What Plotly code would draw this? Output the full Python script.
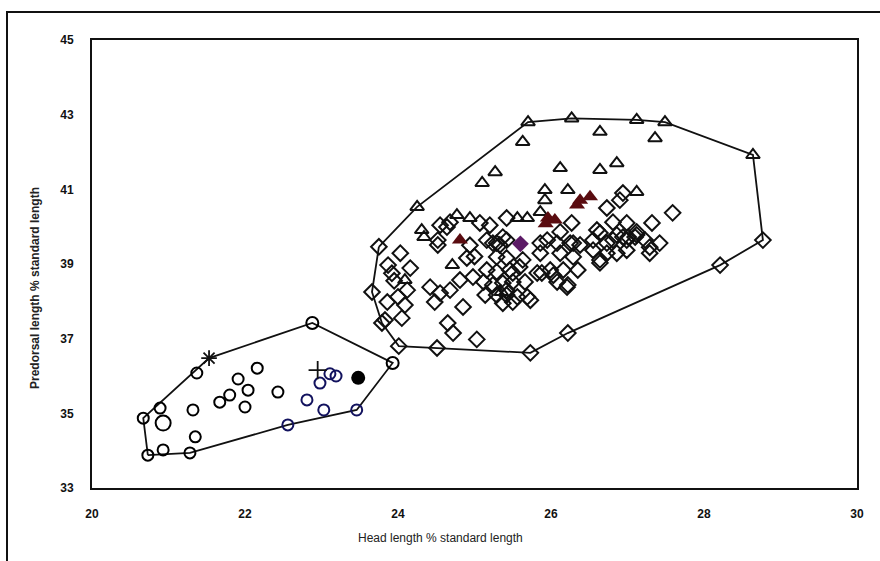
import plotly.graph_objects as go

# ---------------- data ----------------
# Small cluster (left)
circ_x = [20.73, 20.67, 20.89, 20.93, 20.93, 21.28, 21.35, 21.32, 21.37, 21.67, 21.80, 21.91,
          22.00, 22.04, 22.16, 22.43, 22.88, 23.93]
circ_y = [33.88, 34.87, 35.14, 34.74, 34.02, 33.94, 34.37, 35.09, 36.08, 35.30, 35.49, 35.92,
          35.17, 35.62, 36.21, 35.57, 37.42, 36.35]
circ_s = [11, 11, 11, 15, 11, 11, 11, 11, 11, 11, 11, 11, 11, 11, 11, 11, 12, 12]

blue_x = [22.56, 22.81, 23.03, 22.98, 23.11, 23.19, 23.46]
blue_y = [34.69, 35.36, 35.09, 35.81, 36.06, 36.00, 35.09]

star_x = [21.53]
star_y = [36.48]
plus_x = [22.95]
plus_y = [36.16]
dot_x = [23.48]
dot_y = [35.95]

# Large cluster
dia_x = [23.75, 23.66, 23.79, 24.01, 24.51, 25.03, 25.73, 26.22, 28.21, 28.77,
         24.03, 23.87, 24.16, 23.86, 24.00, 24.09, 23.83, 24.05, 23.95, 24.12, 23.92,
         24.52, 24.64, 24.42, 24.55, 24.48, 24.68, 24.81, 24.98, 24.85, 24.65, 24.72, 24.90,
         24.94, 25.00,
         25.07, 25.20, 25.42, 24.68, 24.55, 24.52, 25.24, 25.37, 25.29,
         25.16, 25.33, 25.42, 25.29, 25.42, 25.16, 25.29, 25.46, 25.59, 25.12, 25.24, 25.37,
         25.50, 25.66, 25.14, 25.29, 25.42, 25.56, 25.69, 25.37, 25.50, 25.86, 25.88, 25.99,
         26.16, 26.08, 26.21, 26.35, 26.29, 26.12, 25.95, 26.08, 26.25, 26.38, 26.55, 26.64,
         26.73, 26.86, 26.99, 27.12, 27.23, 27.29, 27.29, 26.64, 26.55, 26.73, 26.86, 26.99,
         26.64, 26.22, 26.03, 25.82, 25.63, 25.50, 25.42, 25.73, 25.86, 26.12, 26.27, 26.29,
         26.60, 26.81, 26.99, 27.12, 26.90, 27.32, 27.59, 26.94, 26.73, 26.81, 27.01, 27.42,
         26.94, 27.10]
dia_y = [39.46, 38.25, 37.42, 36.80, 36.75, 36.98, 36.62, 37.15, 38.97, 39.64,
         39.29, 38.97, 38.89, 37.98, 38.12, 37.90, 37.50, 37.55, 38.55, 38.30, 38.75,
         39.51, 39.99, 38.38, 38.22, 37.98, 38.30, 38.57, 38.65, 37.85, 37.42, 37.15, 39.16,
         39.50, 39.20,
         40.10, 40.04, 40.23, 40.12, 40.04, 39.64, 39.56, 39.72, 39.56,
         39.64, 39.51, 39.64, 39.19, 39.16, 38.84, 38.79, 38.84, 38.92, 38.52, 38.44, 38.49,
         38.52, 38.52, 38.17, 38.17, 38.17, 38.12, 38.12, 37.95, 37.98, 39.29, 38.76, 38.84,
         38.84, 38.52, 38.38, 38.84, 39.19, 39.29, 39.64, 39.56, 39.56, 39.51, 39.64, 39.83,
         39.56, 39.78, 39.64, 39.78, 39.64, 39.45, 39.29, 39.11, 39.37, 39.29, 39.29, 39.37,
         39.03, 38.44, 38.70, 38.76, 39.11, 38.76, 38.30, 38.03, 39.56, 39.86, 40.10, 39.56,
         39.91, 40.12, 40.10, 39.86, 40.71, 40.10, 40.37, 40.90, 40.50, 39.64, 39.72, 39.56,
         39.72, 39.72]

tri_x = [25.70, 25.63, 26.27, 26.64, 27.12, 27.49, 27.36, 28.64,
         26.12, 26.64, 26.86, 25.27, 25.10, 24.25,
         25.92, 26.22, 27.12, 25.92, 25.86,
         24.77, 24.94, 25.56, 25.69, 24.31, 24.34, 24.71, 24.09, 25.35]
tri_y = [42.80, 42.27, 42.90, 42.54, 42.86, 42.80, 42.37, 41.92,
         41.57, 41.52, 41.70, 41.46, 41.17, 40.53,
         40.98, 40.98, 40.93, 40.71, 40.39,
         40.31, 40.23, 40.23, 40.23, 39.91, 39.72, 38.97, 38.57, 38.25]

red_x = [26.38, 26.51, 26.34, 25.96, 26.05, 25.93, 24.81]
red_y = [40.71, 40.80, 40.58, 40.23, 40.18, 40.08, 39.64]

purple_x = [25.60]
purple_y = [39.54]

# Convex hulls
hull1_x = [20.73, 20.67, 21.53, 22.88, 23.93, 23.46, 22.56, 21.28, 20.73]
hull1_y = [33.88, 34.87, 36.48, 37.42, 36.35, 35.09, 34.69, 33.94, 33.88]
hull2_x = [23.75, 24.25, 25.70, 26.27, 27.12, 27.49, 28.64, 28.77, 28.21, 26.22, 25.73,
           24.51, 24.01, 23.79, 23.66, 23.75]
hull2_y = [39.46, 40.53, 42.80, 42.90, 42.86, 42.80, 41.92, 39.64, 38.97, 37.15, 36.62,
           36.75, 36.80, 37.42, 38.25, 39.46]

x_ticks = [20, 22, 24, 26, 28, 30]
y_ticks = [33, 35, 37, 39, 41, 43, 45]

# ---------------- figure ----------------
fig = go.Figure()
line_style = dict(color="#111111", width=1.8)
fig.add_trace(go.Scatter(x=hull1_x, y=hull1_y, mode="lines", line=line_style, hoverinfo="skip"))
fig.add_trace(go.Scatter(x=hull2_x, y=hull2_y, mode="lines", line=line_style, hoverinfo="skip"))

fig.add_trace(go.Scatter(x=circ_x, y=circ_y, mode="markers",
                         marker=dict(symbol="circle-open", size=circ_s, color="#000000", opacity=1,
                                     line=dict(width=2, color="#000000"))))
fig.add_trace(go.Scatter(x=blue_x, y=blue_y, mode="markers",
                         marker=dict(symbol="circle-open", size=11, color="#12125e",
                                     line=dict(width=2, color="#12125e"))))
fig.add_trace(go.Scatter(x=star_x, y=star_y, mode="markers",
                         marker=dict(symbol="asterisk-open", size=13, color="#111111",
                                     line=dict(width=1.8, color="#111111"))))
fig.add_trace(go.Scatter(x=plus_x, y=plus_y, mode="markers",
                         marker=dict(symbol="cross-thin-open", size=13, color="#111111",
                                     line=dict(width=1.8, color="#111111"))))
fig.add_trace(go.Scatter(x=dot_x, y=dot_y, mode="markers",
                         marker=dict(symbol="circle", size=14, color="#000000")))
fig.add_trace(go.Scatter(x=dia_x, y=dia_y, mode="markers",
                         marker=dict(symbol="diamond-open", size=12, color="#111111",
                                     line=dict(width=2, color="#111111"))))
fig.add_trace(go.Scatter(x=tri_x, y=tri_y, mode="markers",
                         marker=dict(symbol="triangle-up-open", size=12, color="#111111",
                                     line=dict(width=2, color="#111111"))))
fig.add_trace(go.Scatter(x=red_x, y=red_y, mode="markers",
                         marker=dict(symbol="triangle-up", size=14, color="#5a0c10")))
fig.add_trace(go.Scatter(x=purple_x, y=purple_y, mode="markers",
                         marker=dict(symbol="diamond", size=13, color="#5c1a66")))

tick_font = dict(family="Liberation Sans Narrow, Arial Narrow, Liberation Sans, sans-serif",
                 size=12, color="#111111", weight="bold")

fig.update_layout(
    width=880, height=561,
    margin=dict(l=92, r=23, t=40, b=73),
    paper_bgcolor="white", plot_bgcolor="white",
    showlegend=False,
    xaxis=dict(range=[20, 30], tickvals=x_ticks, ticktext=[str(v) for v in x_ticks],
               showgrid=False, zeroline=False, showline=True, mirror=True,
               linecolor="#111111", linewidth=2, ticks="", tickfont=tick_font,
               ticklabelstandoff=14),
    yaxis=dict(range=[33, 45], tickvals=y_ticks, ticktext=[str(v) for v in y_ticks],
               showgrid=False, zeroline=False, showline=True, mirror=True,
               linecolor="#111111", linewidth=2, ticks="", tickfont=tick_font,
               ticklabelstandoff=14),
    annotations=[
        dict(text="Head length % standard length", xref="paper", yref="paper",
             x=(440 - 92) / 765, y=(488 - 538) / 448, xanchor="center", yanchor="middle",
             showarrow=False,
             font=dict(family="Liberation Sans Narrow, Arial Narrow, Liberation Sans, sans-serif",
                       size=12, color="#222222")),
        dict(text="Predorsal length % standard length", xref="paper", yref="paper",
             x=(35 - 92) / 765, y=(488 - 288) / 448, xanchor="center", yanchor="middle",
             textangle=-90, showarrow=False,
             font=dict(family="Liberation Sans Narrow, Arial Narrow, Liberation Sans, sans-serif",
                       size=12, color="#222222", weight="bold")),
    ],
    shapes=[
        dict(type="path", xref="paper", yref="paper",
             path="M {l},{b} L {l},{t} L {r},{t}".format(l=(7 - 92) / 765, b=(561 - 488) / -448 - 0.01,
                                                      t=(488 - 12) / 448, r=(882 - 92) / 765),
             line=dict(color="#111111", width=2)),
    ],
)

fig.write_html("out.html")
